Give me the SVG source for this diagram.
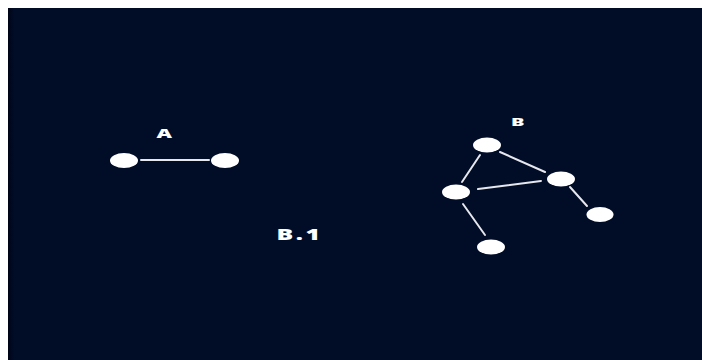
<svg xmlns="http://www.w3.org/2000/svg" width="702" height="360" viewBox="0 0 702 360">
  <style>
    .node { fill: #ffffff; }
    .edge { stroke: #e6e8ee; stroke-width: 2; stroke-linecap: round; fill: none; }
    .label { fill: #ffffff; font-family: "Open Sans", "Liberation Sans", sans-serif; font-weight: 800; }
  </style>
  <defs>
    <linearGradient id="edgeShade" x1="0" y1="0" x2="1" y2="0">
      <stop offset="0" stop-color="#000517"/>
      <stop offset="1" stop-color="#010c27"/>
    </linearGradient>
  </defs>

  <!-- page and dark panel -->
  <rect x="0" y="0" width="702" height="360" fill="#ffffff"/>
  <rect x="8" y="8" width="694" height="352" fill="#010c27"/>
  <rect x="8" y="8" width="6" height="352" fill="url(#edgeShade)"/>

  <!-- connectors -->
  <g id="connectors">
    <line class="edge" x1="141" y1="160" x2="209" y2="160"/>
    <line class="edge" x1="480" y1="155" x2="462" y2="182"/>
    <line class="edge" x1="500" y1="152" x2="545" y2="172"/>
    <line class="edge" x1="478" y1="189" x2="541" y2="181"/>
    <line class="edge" x1="570" y1="187" x2="587" y2="206"/>
    <line class="edge" x1="463" y1="204" x2="485" y2="235"/>
  </g>

  <!-- graph A -->
  <g id="a-left"><ellipse class="node" cx="124" cy="160.5" rx="14" ry="7.5"/></g>
  <g id="a-right"><ellipse class="node" cx="225" cy="160.5" rx="14" ry="7.5"/></g>

  <!-- graph B -->
  <g id="b-top"><ellipse class="node" cx="487" cy="145" rx="14" ry="7.5"/></g>
  <g id="b-right"><ellipse class="node" cx="561" cy="179" rx="14" ry="7.5"/></g>
  <g id="b-left"><ellipse class="node" cx="456" cy="192" rx="14" ry="7.5"/></g>
  <g id="b-far-right"><ellipse class="node" cx="600" cy="214.5" rx="13.5" ry="7.5"/></g>
  <g id="b-bottom"><ellipse class="node" cx="491" cy="247" rx="14" ry="7.5"/></g>

  <!-- labels (wide, stretched lettering) -->
  <g id="label-a"><text class="label" x="156.5" y="137.5" font-size="11.6" textLength="15.5" lengthAdjust="spacingAndGlyphs">A</text></g>
  <g id="label-b"><text class="label" x="511" y="126.2" font-size="10.8" textLength="13.5" lengthAdjust="spacingAndGlyphs">B</text></g>
  <g id="label-b1"><text class="label" x="276.5" y="239.5" font-size="15" textLength="46" lengthAdjust="spacingAndGlyphs" letter-spacing="1.5">B.1</text></g>
</svg>
